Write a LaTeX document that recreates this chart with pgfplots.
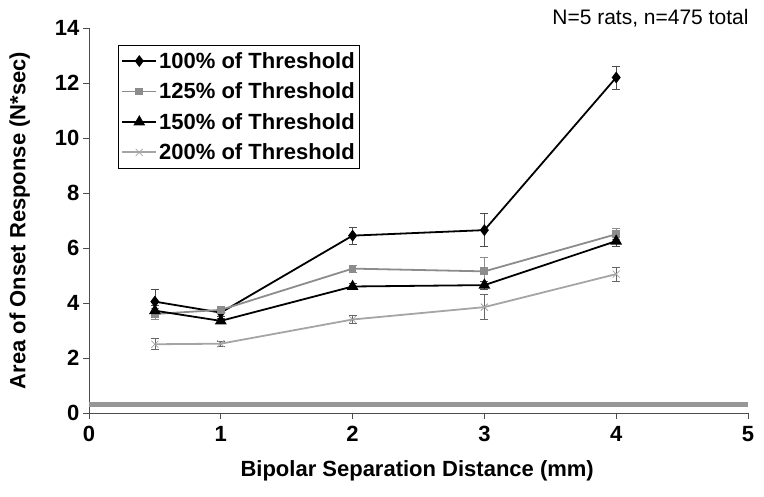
\documentclass[border=0pt]{standalone}
\usepackage{pgfplots}
\pgfplotsset{compat=1.18}
\usepackage{fontspec}
\setmainfont{Liberation Sans}

\definecolor{midgray}{RGB}{140,140,140}
\definecolor{lightgray}{RGB}{165,165,165}
\definecolor{bargray}{RGB}{150,150,150}

\begin{document}
\begin{tikzpicture}[font=\fontsize{22}{26}\selectfont\bfseries]
\useasboundingbox (-89pt,-84pt) rectangle (675pt,413pt);
\begin{axis}[
    at={(0pt,0pt)}, anchor=south west,
    scale only axis,
    width=659pt, height=385pt,
    xmin=0, xmax=5, ymin=0, ymax=14,
    xtick={0,1,2,3,4,5},
    ytick={0,2,4,6,8,10,12,14},
    axis lines=left,
    axis line style={-, black!70, line width=0.8pt},
    tick style={black!70, line width=0.8pt},
    tick align=outside,
    major tick length=6pt,
    xticklabel style={yshift=-4pt},
    /pgf/number format/assume math mode=true,
    xlabel={Bipolar Separation Distance (mm)},
    ylabel={Area of Onset Response (N*sec)},
    xlabel style={at={(axis description cs:0.498,-0.151)}, anchor=center},
    ylabel style={at={(axis description cs:-0.105,0.5)}, anchor=center},
    legend style={at={(0.044,0.956)}, anchor=north west, draw=black,
      line width=0.8pt, font=\fontsize{22}{26}\selectfont\bfseries,
      row sep=9pt, inner xsep=3pt, inner ysep=5pt},
    legend cell align=left,
    legend image code/.code={%
      \draw[mark repeat=2,mark phase=2,#1]
        plot coordinates {(0pt,0pt) (17pt,0pt) (34pt,0pt)};},
    error bars/y dir=both, error bars/y explicit,
    error bars/error bar style={line width=0.6pt},
    error bars/error mark options={rotate=90, mark size=4pt, line width=0.6pt},
    clip=false,
]
% baseline band
\addplot[bargray, line width=4.5pt, forget plot] coordinates {(0,0.3) (5,0.3)};

\addplot[black, line width=1.8pt, mark=diamond*, mark size=4.5pt,
  error bars/error bar style={black!70}] coordinates {
  (0.5,4.05) +- (0,0.45)
  (1,3.65)   +- (0,0.15)
  (2,6.45)   +- (0,0.3)
  (3,6.65)   +- (0,0.6)
  (4,12.2)   +- (0,0.42)
};
\addlegendentry{100\% of Threshold}

\addplot[midgray, line width=1.8pt, mark=square*, mark size=3pt,
  error bars/error bar style={midgray}] coordinates {
  (0.5,3.6)  +- (0,0.2)
  (1,3.75)   +- (0,0.12)
  (2,5.25)   +- (0,0.12)
  (3,5.15)   +- (0,0.5)
  (4,6.5)    +- (0,0.2)
};
\addlegendentry{125\% of Threshold}

\addplot[black, line width=1.8pt, mark=triangle*, mark size=5pt,
  error bars/error bar style={black!70}] coordinates {
  (0.5,3.72) +- (0,0.2)
  (1,3.35)   +- (0,0.1)
  (2,4.6)    +- (0,0.1)
  (3,4.65)   +- (0,0.15)
  (4,6.25)   +- (0,0.2)
};
\addlegendentry{150\% of Threshold}

\addplot[lightgray, line width=1.8pt, mark=x, mark size=5pt,
  mark options={line width=0.8pt},
  error bars/error bar style={black!60}] coordinates {
  (0.5,2.5)  +- (0,0.2)
  (1,2.52)   +- (0,0.1)
  (2,3.4)    +- (0,0.15)
  (3,3.85)   +- (0,0.45)
  (4,5.05)   +- (0,0.25)
};
\addlegendentry{200\% of Threshold}

\node[anchor=east, font=\fontsize{21}{25}\selectfont] at (rel axis cs:1,1) [xshift=4pt, yshift=10pt] {N=5 rats, n=475 total};
\end{axis}
\end{tikzpicture}
\end{document}
